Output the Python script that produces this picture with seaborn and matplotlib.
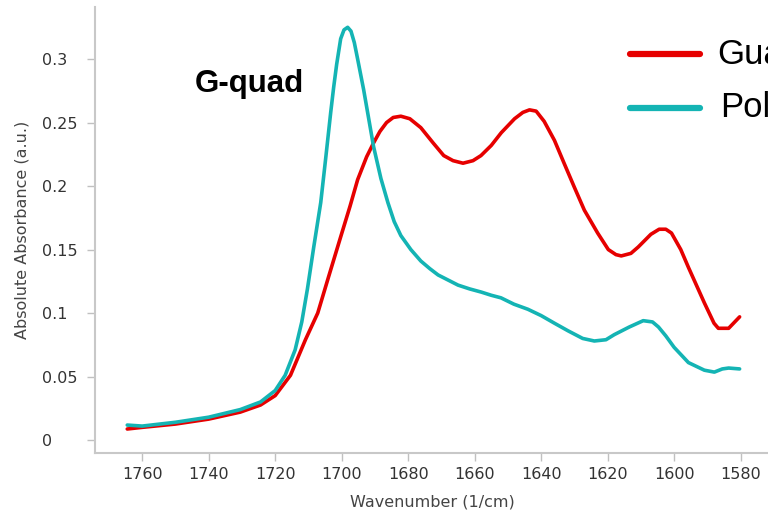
import numpy as np
import pandas as pd
import matplotlib
matplotlib.use("Agg")
import matplotlib.pyplot as plt
import seaborn as sns

# ---- data ----
poly_wn = [1764.5, 1760, 1750, 1740, 1730.5, 1724.4, 1720, 1717, 1714, 1712, 1710.3,
           1708.4, 1706.3, 1704.8, 1703.3, 1702.4, 1701.5, 1700.3, 1699.3, 1698.2, 1697.2,
           1696.2, 1695.2, 1693.4, 1691.8, 1690.4, 1688.2, 1686.1, 1684.2, 1682.2, 1679.2,
           1676.2, 1673.5, 1671, 1668, 1665, 1661.5, 1658, 1655, 1652.1, 1648.2, 1644,
           1640, 1636, 1631.9, 1627.5, 1624, 1620.5, 1618, 1613.5, 1609.3, 1606.5,
           1604.7, 1602.5, 1600, 1595.7, 1590.9, 1587.9, 1585.5, 1583.6, 1580.3]
poly_ab = [0.0118, 0.011, 0.014, 0.018, 0.024, 0.030, 0.039, 0.051, 0.071, 0.093, 0.119,
           0.152, 0.187, 0.222, 0.258, 0.278, 0.296, 0.316, 0.323, 0.325, 0.322,
           0.313, 0.300, 0.276, 0.252, 0.231, 0.206, 0.187, 0.172, 0.161, 0.150,
           0.141, 0.135, 0.130, 0.126, 0.122, 0.119, 0.1165, 0.114, 0.112, 0.107, 0.103,
           0.098, 0.092, 0.086, 0.080, 0.078, 0.079, 0.083, 0.089, 0.094, 0.093,
           0.089, 0.082, 0.073, 0.061, 0.055, 0.0535, 0.056, 0.0567, 0.056]

gua_wn = [1764.5, 1760, 1750, 1740, 1730.5, 1724.4, 1720, 1715.4, 1710.9, 1707.2,
          1704, 1700.3, 1697.5, 1695.2, 1692.5, 1690.4, 1688.5, 1686.5, 1684.5, 1682.2,
          1679.5, 1676.2, 1672.5, 1669.3, 1666.5, 1663.5, 1660.5, 1658.1, 1655, 1652,
          1648, 1645.5, 1643.5, 1641.5, 1639.1, 1636, 1633.1, 1630, 1627, 1623, 1619.8,
          1617.5, 1615.9, 1613, 1610.8, 1607, 1604.5, 1602.5, 1600.8, 1598, 1595.7,
          1590.9, 1588, 1586.7, 1583.6, 1580.3]
gua_ab = [0.0087, 0.010, 0.0126, 0.0165, 0.022, 0.0276, 0.035, 0.051, 0.079, 0.100,
          0.128, 0.160, 0.184, 0.205, 0.223, 0.234, 0.243, 0.250, 0.254, 0.255,
          0.253, 0.246, 0.234, 0.224, 0.220, 0.218, 0.220, 0.224, 0.232, 0.242,
          0.253, 0.258, 0.260, 0.259, 0.251, 0.236, 0.218, 0.199, 0.181, 0.163, 0.150,
          0.146, 0.145, 0.147, 0.152, 0.162, 0.166, 0.166, 0.163, 0.150, 0.136,
          0.108, 0.092, 0.088, 0.088, 0.097]

series_names = ["Guanosine", "Poly-G"]
x_ticks = [1760, 1740, 1720, 1700, 1680, 1660, 1640, 1620, 1600, 1580]
y_ticks = [0, 0.05, 0.1, 0.15, 0.2, 0.25, 0.3]
y_tick_labels = ["0", "0.05", "0.1", "0.15", "0.2", "0.25", "0.3"]

df = pd.concat([
    pd.DataFrame({"wn": gua_wn, "ab": gua_ab, "series": series_names[0]}),
    pd.DataFrame({"wn": poly_wn, "ab": poly_ab, "series": series_names[1]}),
])

sns.set_style("white")
plt.rcParams["font.family"] = ["DejaVu Sans"]

fig = plt.figure(figsize=(7.68, 5.15), dpi=100)
ax_w = 1 - 95 / 768 + 0.002
ax = fig.add_axes([95 / 768, 62 / 515, ax_w, 446 / 515])

palette = {series_names[0]: "#e60000", series_names[1]: "#14b4b4"}
sns.lineplot(data=df, x="wn", y="ab", hue="series", palette=palette, ax=ax,
             linewidth=2.6, sort=False, legend=False)

ax.set_xlim(1774.2, 1571.3)
ax.set_ylim(-0.0102, 0.341)
ax.set_xticks(x_ticks)
ax.set_xticklabels([str(t) for t in x_ticks])
ax.set_yticks(y_ticks)
ax.set_yticklabels(y_tick_labels)

for s in ["top", "right"]:
    ax.spines[s].set_visible(False)
for s in ["left", "bottom"]:
    ax.spines[s].set_color("#c8c8c8")
    ax.spines[s].set_linewidth(1.5)

ax.tick_params(axis="both", which="both", direction="out", length=6, width=1,
               color="#c0c0c0", labelcolor="#333333", labelsize=11.5,
               bottom=True, left=True)
ax.tick_params(axis="y", pad=32)
for lab in ax.get_yticklabels():
    lab.set_horizontalalignment("left")
ax.tick_params(axis="x", pad=4)

ax.set_xlabel("Wavenumber (1/cm)", color="#444444", fontsize=11.5, labelpad=9)
ax.set_ylabel("Absolute Absorbance (a.u.)", color="#444444", fontsize=11.5)
ax.yaxis.set_label_coords((30 - 95) / (768 * ax_w), 0.5)

# annotation
fig.text(195 / 768, 1 - 84 / 515, "G-quad", fontsize=22.5, fontweight="bold",
         family="Liberation Sans", color="black", va="center", ha="left")

# legend (clipped at the right edge, as in the reference)
leg_items = [(54, series_names[0], palette[series_names[0]], 717),
             (108, series_names[1], palette[series_names[1]], 720)]
for ypx, name, col, tx in leg_items:
    fig.add_artist(plt.Line2D([630 / 768, 700 / 768], [1 - ypx / 515, 1 - ypx / 515],
                              color=col, linewidth=4.5, transform=fig.transFigure))
    fig.text(tx / 768, 1 - ypx / 515, name, fontsize=25, family="Liberation Sans",
             color="black", va="center", ha="left")

fig.savefig("out.png", dpi=100)
